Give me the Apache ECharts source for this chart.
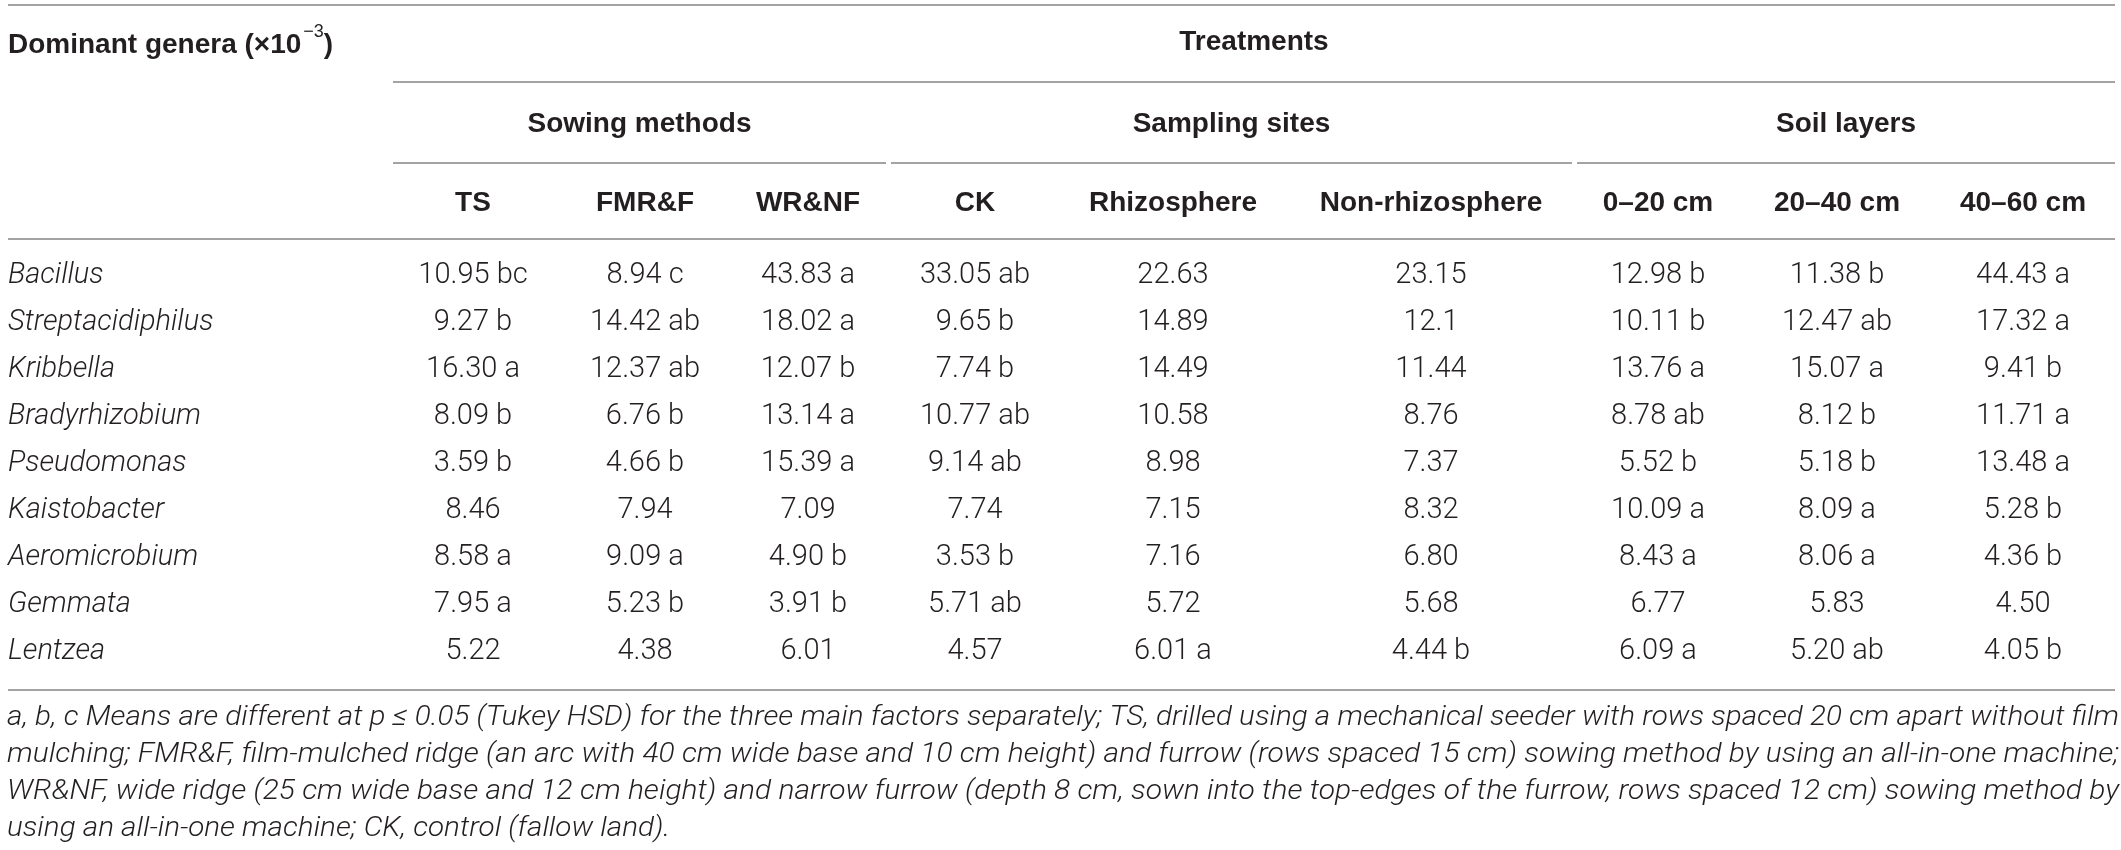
<!DOCTYPE html>
<html>
<head>
<meta charset="utf-8">
<script src="https://cdn.jsdelivr.net/npm/echarts@6/dist/echarts.min.js"></script>
<style>
  html, body { margin: 0; padding: 0; background: #fff; }
  #main { width: 2121px; height: 850px; }
</style>
</head>
<body>
<div id="main"></div>
<script>
// table content
const genera = ['Bacillus', 'Streptacidiphilus', 'Kribbella', 'Bradyrhizobium', 'Pseudomonas',
  'Kaistobacter', 'Aeromicrobium', 'Gemmata', 'Lentzea'];
const treatments = ['TS', 'FMR&F', 'WR&NF', 'CK', 'Rhizosphere', 'Non-rhizosphere',
  '0–20 cm', '20–40 cm', '40–60 cm'];
const groups = ['Sowing methods', 'Sampling sites', 'Soil layers'];

const ts       = ['10.95 bc', '9.27 b', '16.30 a', '8.09 b', '3.59 b', '8.46', '8.58 a', '7.95 a', '5.22'];
const fmrf     = ['8.94 c', '14.42 ab', '12.37 ab', '6.76 b', '4.66 b', '7.94', '9.09 a', '5.23 b', '4.38'];
const wrnf     = ['43.83 a', '18.02 a', '12.07 b', '13.14 a', '15.39 a', '7.09', '4.90 b', '3.91 b', '6.01'];
const ck       = ['33.05 ab', '9.65 b', '7.74 b', '10.77 ab', '9.14 ab', '7.74', '3.53 b', '5.71 ab', '4.57'];
const rhizo    = ['22.63', '14.89', '14.49', '10.58', '8.98', '7.15', '7.16', '5.72', '6.01 a'];
const nonRhizo = ['23.15', '12.1', '11.44', '8.76', '7.37', '8.32', '6.80', '5.68', '4.44 b'];
const soil0    = ['12.98 b', '10.11 b', '13.76 a', '8.78 ab', '5.52 b', '10.09 a', '8.43 a', '6.77', '6.09 a'];
const soil20   = ['11.38 b', '12.47 ab', '15.07 a', '8.12 b', '5.18 b', '8.09 a', '8.06 a', '5.83', '5.20 ab'];
const soil40   = ['44.43 a', '17.32 a', '9.41 b', '11.71 a', '13.48 a', '5.28 b', '4.36 b', '4.50', '4.05 b'];
const columns = [ts, fmrf, wrnf, ck, rhizo, nonRhizo, soil0, soil20, soil40];

const footnote = [
  'a, b, c Means are different at p ≤ 0.05 (Tukey HSD) for the three main factors separately; TS, drilled using a mechanical seeder with rows spaced 20 cm apart without film',
  'mulching; FMR&F, film-mulched ridge (an arc with 40 cm wide base and 10 cm height) and furrow (rows spaced 15 cm) sowing method by using an all-in-one machine;',
  'WR&NF, wide ridge (25 cm wide base and 12 cm height) and narrow furrow (depth 8 cm, sown into the top-edges of the furrow, rows spaced 12 cm) sowing method by',
  'using an all-in-one machine; CK, control (fallow land).'
];

// layout
const W = 2121;
const BODY_FONT = 'Roboto, "Liberation Sans", sans-serif';
const HEAD_FONT = '"Liberation Sans", Arial, sans-serif';
const ink = '#231f20';
const tableLeft = 8, tableRight = 2115;
const groupEdges = [[393, 886], [891, 1572], [1577, 2115]];
const colX = [473, 645, 808, 975, 1173, 1431, 1658, 1837, 2023];
const lineColor = '#a3a3a3';

const cells = [];
genera.forEach((g, i) => {
  cells.push({ x: tableLeft, row: i, text: g, genus: true });
  columns.forEach((col, j) => cells.push({ x: colX[j], row: i, text: col[i], genus: false }));
});

function hline(x1, x2, y) {
  return { type: 'line', shape: { x1: x1, y1: y, x2: x2, y2: y },
    style: { stroke: lineColor, lineWidth: 2 }, silent: true };
}
function label(text, x, y, opts) {
  opts = opts || {};
  return {
    type: 'text', x: x, y: y, scaleX: opts.scaleX || 1, silent: true,
    style: {
      text: text, rich: opts.rich,
      fontFamily: opts.family || HEAD_FONT, fontSize: opts.size || 28,
      fontWeight: opts.weight || 'normal', fontStyle: opts.style || 'normal',
      fill: ink,
      align: opts.align || 'center', textAlign: opts.align || 'center',
      verticalAlign: 'middle', textVerticalAlign: 'middle'
    }
  };
}

// footnote lines are justified in the source: stretch/squeeze them to the table width
const ctx = document.createElement('canvas').getContext('2d');
const footSize = 28;
ctx.font = 'italic 300 ' + footSize + 'px ' + BODY_FONT;
const footGraphics = footnote.map((t, k) => {
  const w = ctx.measureText(t).width;
  const sx = (2119 - 7) / ctx.measureText(footnote[0]).width;
  return label(t, 7, 718 + k * 37, {
    align: 'left', style: 'italic', weight: 300, family: BODY_FONT, size: footSize,
    scaleX: k < footnote.length - 1 ? (2119 - 7) / w : sx
  });
});

const graphics = [
  hline(tableLeft, tableRight, 5),
  hline(groupEdges[0][0], tableRight, 82),
  hline(groupEdges[0][0], groupEdges[0][1], 163),
  hline(groupEdges[1][0], groupEdges[1][1], 163),
  hline(groupEdges[2][0], groupEdges[2][1], 163),
  hline(tableLeft, tableRight, 239),
  hline(tableLeft, tableRight, 690),
  label('{m|Dominant genera (×10}{s|−3}{m|)}', tableLeft, 41, {
    align: 'left', weight: 'bold',
    rich: {
      m: { fontFamily: HEAD_FONT, fontSize: 28, fontWeight: 'bold', fill: ink, lineHeight: 36, verticalAlign: 'bottom' },
      s: { fontFamily: HEAD_FONT, fontSize: 18, fill: ink, lineHeight: 36, verticalAlign: 'top', padding: [0, 0, 0, 2] }
    }
  }),
  label('Treatments', (groupEdges[0][0] + tableRight) / 2, 42, { weight: 'bold' })
];
groups.forEach((g, k) => {
  graphics.push(label(g, (groupEdges[k][0] + groupEdges[k][1]) / 2, 124, { weight: 'bold' }));
});
treatments.forEach((t, j) => {
  graphics.push(label(t, colX[j], 203, { weight: 'bold' }));
});

const chart = echarts.init(document.getElementById('main'), null, { renderer: 'canvas' });
chart.setOption({
  animation: false,
  backgroundColor: '#fff',
  grid: { left: 0, right: 0, top: 252.5, height: 47 * genera.length, containLabel: false },
  xAxis: { type: 'value', min: 0, max: W, show: false },
  yAxis: { type: 'category', data: genera, inverse: true, show: false },
  series: [{
    type: 'custom',
    coordinateSystem: 'cartesian2d',
    silent: true,
    data: cells.map(c => [c.x, c.row]),
    renderItem: function (params, api) {
      const c = cells[params.dataIndex];
      const p = api.coord([api.value(0), api.value(1)]);
      return {
        type: 'text', x: p[0], y: p[1],
        style: {
          text: c.text,
          fontFamily: BODY_FONT, fontSize: 29, fontWeight: 300,
          fontStyle: c.genus ? 'italic' : 'normal',
          fill: ink,
          align: c.genus ? 'left' : 'center',
          verticalAlign: 'middle'
        }
      };
    }
  }],
  graphic: graphics.concat(footGraphics)
});
</script>
</body>
</html>
